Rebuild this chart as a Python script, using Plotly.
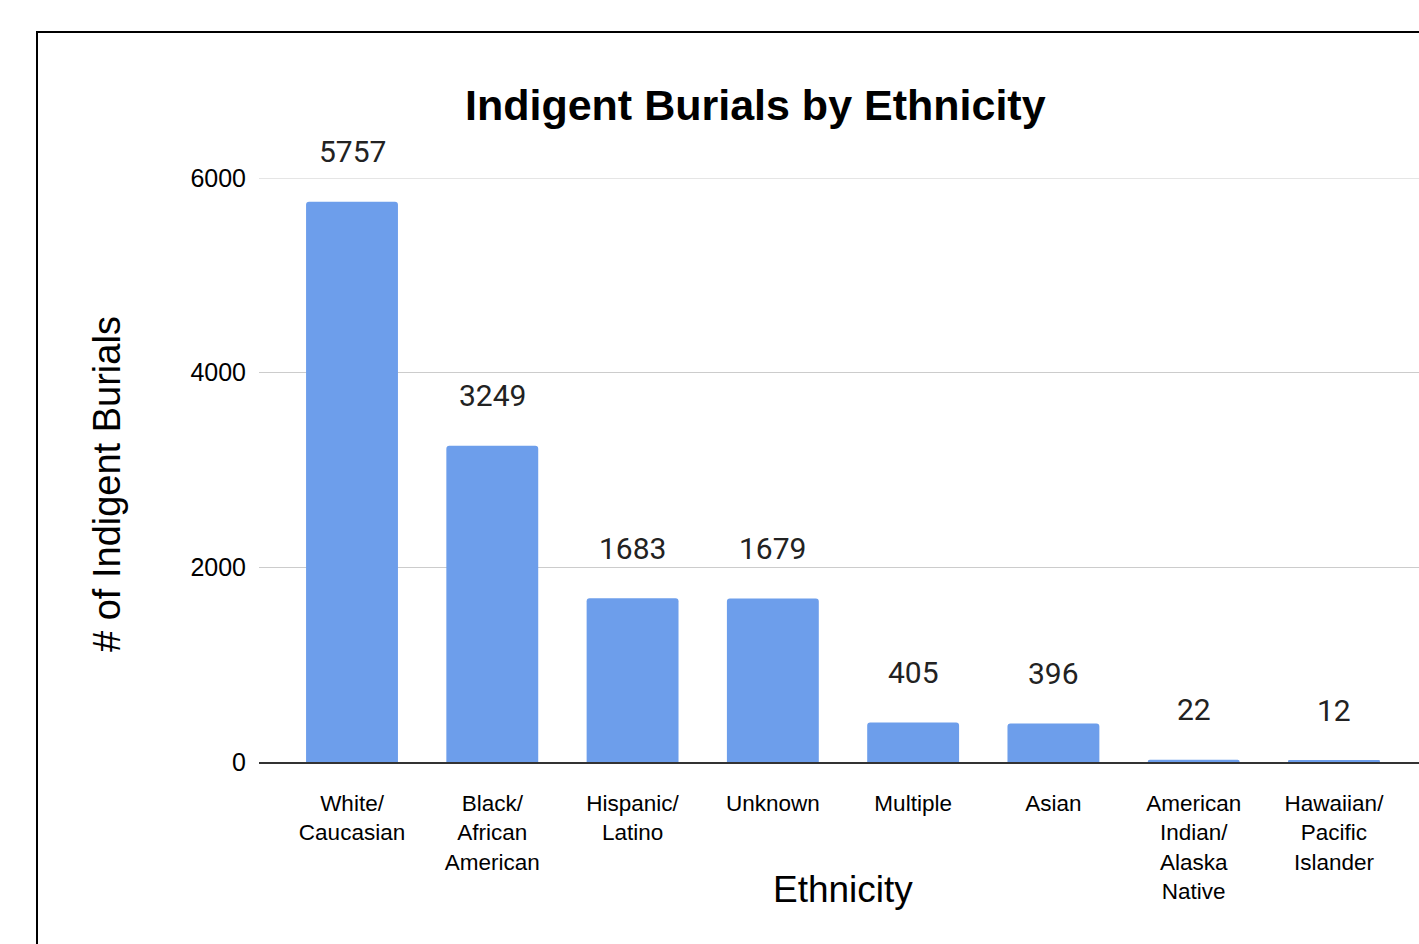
import plotly.graph_objects as go

categories = ["White/<br>Caucasian", "Black/<br>African<br>American", "Hispanic/<br>Latino",
              "Unknown", "Multiple", "Asian", "American<br>Indian/<br>Alaska<br>Native",
              "Hawaiian/<br>Pacific<br>Islander"]
burials = [5757, 3249, 1683, 1679, 405, 396, 22, 12]
y_ticks = [0, 2000, 4000, 6000]

W, H = 1419, 944
L, R, T, B = 259, 0, 178, 182
pw = W - L - R
ph = H - T - B

def px(x):
    return (x - L) / pw

def py(y):
    return (H - B - y) / ph

fig = go.Figure()
fig.add_trace(go.Bar(
    x=categories, y=burials,
    marker=dict(color="#6d9eeb", cornerradius=3, line=dict(width=0)),
    hoverinfo="skip",
))

for c, v in zip(categories, burials):
    fig.add_annotation(x=c, y=v, text=str(v), showarrow=False, yshift=50,
                       yanchor="middle", xanchor="center",
                       font=dict(family="Roboto", size=30, color="#222222"))

fig.add_annotation(xref="paper", yref="paper", x=px(755.5), y=py(105),
                   text="<b>Indigent Burials by Ethnicity</b>", showarrow=False,
                   xanchor="center", yanchor="middle",
                   font=dict(family="Liberation Sans", size=43, color="#000000"))
fig.add_annotation(xref="paper", yref="paper", x=px(843), y=py(889),
                   text="Ethnicity", showarrow=False,
                   xanchor="center", yanchor="middle",
                   font=dict(family="Liberation Sans", size=37, color="#000000"))
fig.add_annotation(xref="paper", yref="paper", x=px(107), y=py(484),
                   text="# of Indigent Burials", showarrow=False, textangle=-90,
                   xanchor="center", yanchor="middle",
                   font=dict(family="Liberation Sans", size=38, color="#000000"))

# top gridline (plotly drops gridlines lying on the plot edge)
fig.add_shape(type="line", xref="paper", yref="y", x0=0, x1=1,
              y0=y_ticks[-1], y1=y_ticks[-1],
              line=dict(color="#cccccc", width=1), layer="below")

fig.add_shape(type="rect", xref="paper", yref="paper",
              x0=px(37), x1=px(1500), y0=py(1100), y1=py(32),
              line=dict(color="#000000", width=2), fillcolor="rgba(0,0,0,0)", layer="above")

fig.update_layout(
    width=W, height=H,
    margin=dict(l=L, r=R, t=T, b=B, autoexpand=False),
    paper_bgcolor="white", plot_bgcolor="white",
    showlegend=False,
    bargap=0.345,
    font=dict(family="Liberation Sans", color="#000000"),
)
fig.update_xaxes(
    range=[-0.663, 7.606], showgrid=False, showline=True, linecolor="#333333",
    linewidth=2, ticks="", layer="below traces", tickangle=0,
    tickfont=dict(family="Liberation Sans", size=22.5, color="#000000"),
    ticklabelstandoff=20, fixedrange=True,
)
fig.update_yaxes(
    range=[0, 6000], tickvals=y_ticks, ticktext=[str(t) for t in y_ticks],
    showgrid=True, gridcolor="#cccccc", gridwidth=1, zeroline=False,
    showline=False, ticks="", tickfont=dict(family="Liberation Sans", size=25, color="#000000"),
    ticklabelstandoff=12, fixedrange=True,
)

fig.write_html("out.html", config={"displayModeBar": False})
